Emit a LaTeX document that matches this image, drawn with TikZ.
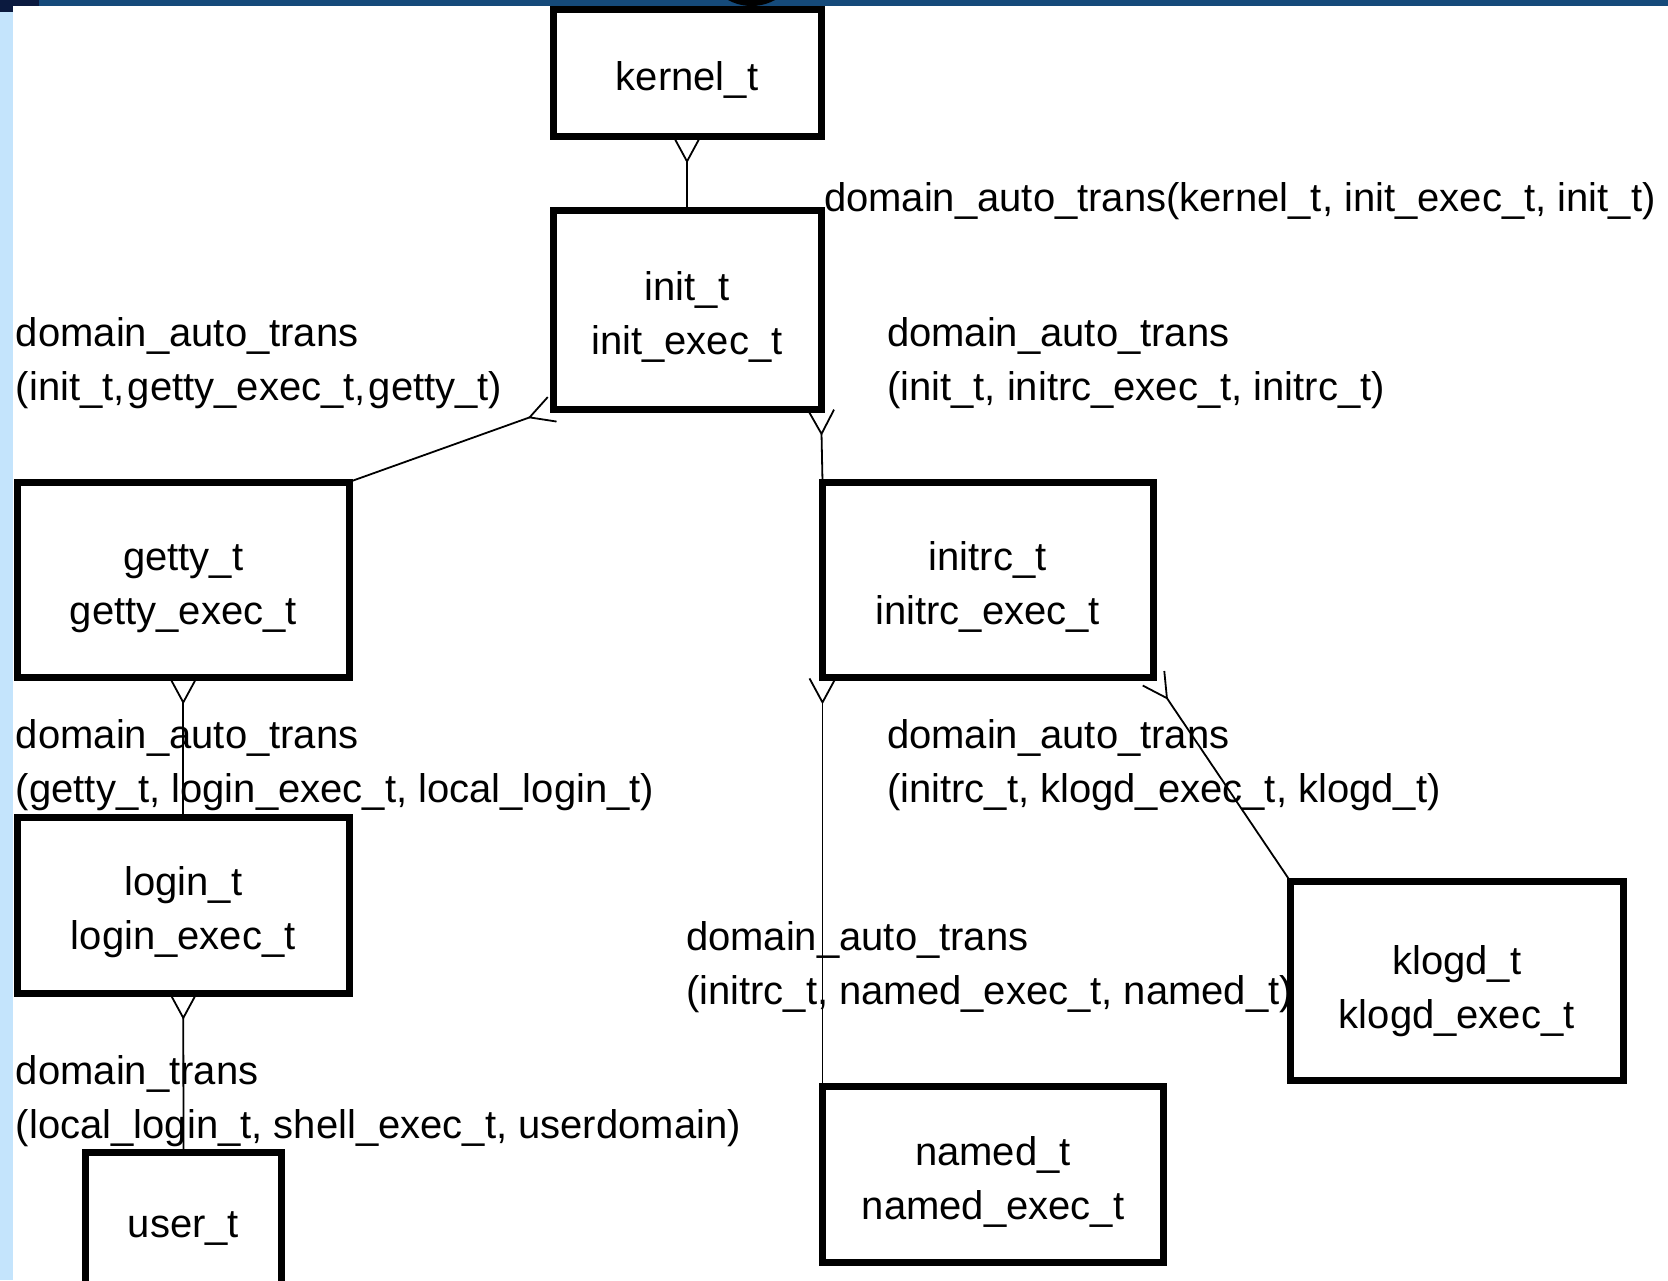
\documentclass[tikz,border=0pt]{standalone}
\usepackage{fontspec}
\setmainfont{Liberation Sans}
\usetikzlibrary{arrows.meta}
\definecolor{topbar}{HTML}{154A7A}
\definecolor{navy}{HTML}{0B1A3F}
\definecolor{strip}{HTML}{C4E4FC}
\begin{document}
\begin{tikzpicture}[x=0.5pt,y=-0.5pt,
  box/.style={draw=black, line width=3.5pt, fill=white, inner sep=0pt, outer sep=0pt,
    align=center, font=\fontsize{20}{27}\selectfont, text depth=0pt},
  boxone/.style={box, text height=17.9pt},
  boxtwo/.style={box, text height=44.6pt},
  lbl/.style={inner sep=0pt, outer sep=0pt, align=left, anchor=base west,
    font=\fontsize{20}{27}\selectfont},
  link/.style={line width=0.9pt, {Straight Barb[reversed,length=12pt,width=13pt]}-}]
\useasboundingbox (0,0) rectangle (1668,1280);
\clip (0,0) rectangle (1668,1280);
\fill[white] (0,0) rectangle (1668,1280);
\fill[topbar] (0,0) rectangle (1668,6);
\fill[navy] (0,0) rectangle (39,6);
\fill[navy] (0,6) rectangle (13,12);
\fill[strip] (0,12) rectangle (13,1280);
\fill[black] (751.5,-43) circle[radius=24.5pt];

% labels (base = baseline of last line)
\node[lbl] (l1) at (824,211) {domain\_auto\_trans(kernel\_t, init\_exec\_t, init\_t)};
\node[lbl] (l2) at (16,400) {domain\_auto\_trans\\{\spaceskip=1.5pt\relax (init\_t, getty\_exec\_t, getty\_t)}};
\node[lbl] (l3) at (887,400) {domain\_auto\_trans\\(init\_t, initrc\_exec\_t, initrc\_t)};
\node[lbl] (l4) at (16,802) {domain\_auto\_trans\\(getty\_t, login\_exec\_t, local\_login\_t)};
\node[lbl] (l5) at (887,802) {domain\_auto\_trans\\(initrc\_t, klogd\_exec\_t, klogd\_t)};
\node[lbl] (l6) at (686,1004) {domain\_auto\_trans\\(initrc\_t, named\_exec\_t, named\_t)};
\node[lbl] (l7) at (16,1138) {domain\_trans\\(local\_login\_t, shell\_exec\_t, userdomain)};

% boxes
\node[boxone, minimum width=134pt, minimum height=63.5pt] (kernel) at (687,73) {kernel\_t};
\node[boxtwo, minimum width=134pt, minimum height=99.25pt] (init) at (687,309.75) {init\_t\\init\_exec\_t};
\node[boxtwo, minimum width=165.75pt, minimum height=97.75pt] (getty) at (183.25,579.75) {getty\_t\\getty\_exec\_t};
\node[boxtwo, minimum width=165.25pt, minimum height=97.75pt] (initrc) at (987.75,579.75) {initrc\_t\\initrc\_exec\_t};
\node[boxtwo, minimum width=165.75pt, minimum height=88pt] (login) at (183.25,905) {login\_t\\login\_exec\_t};
\node[boxone, minimum width=98pt, minimum height=67.5pt] (user) at (183.5,1220) {user\_t};
\node[box, text height=47.7pt, minimum width=166.25pt, minimum height=99.5pt] (klogd) at (1456.75,981) {klogd\_t\\klogd\_exec\_t};
\node[boxtwo, minimum width=170.5pt, minimum height=88pt] (named) at (993,1174.5) {named\_t\\named\_exec\_t};

% connectors
\draw[link] (kernel.south) -- (init.north);
\draw[link] (init.south west) -- (getty.north east);
\draw[link] (init.south east) -- (initrc.north west);
\draw[link] (getty.south) -- (login.north);
\draw[link] (login.south) -- (user.north);
\draw[link] (initrc.south west) -- (named.north west);
\draw[link] (initrc.south east) -- (klogd.north west);
\end{tikzpicture}
\end{document}
